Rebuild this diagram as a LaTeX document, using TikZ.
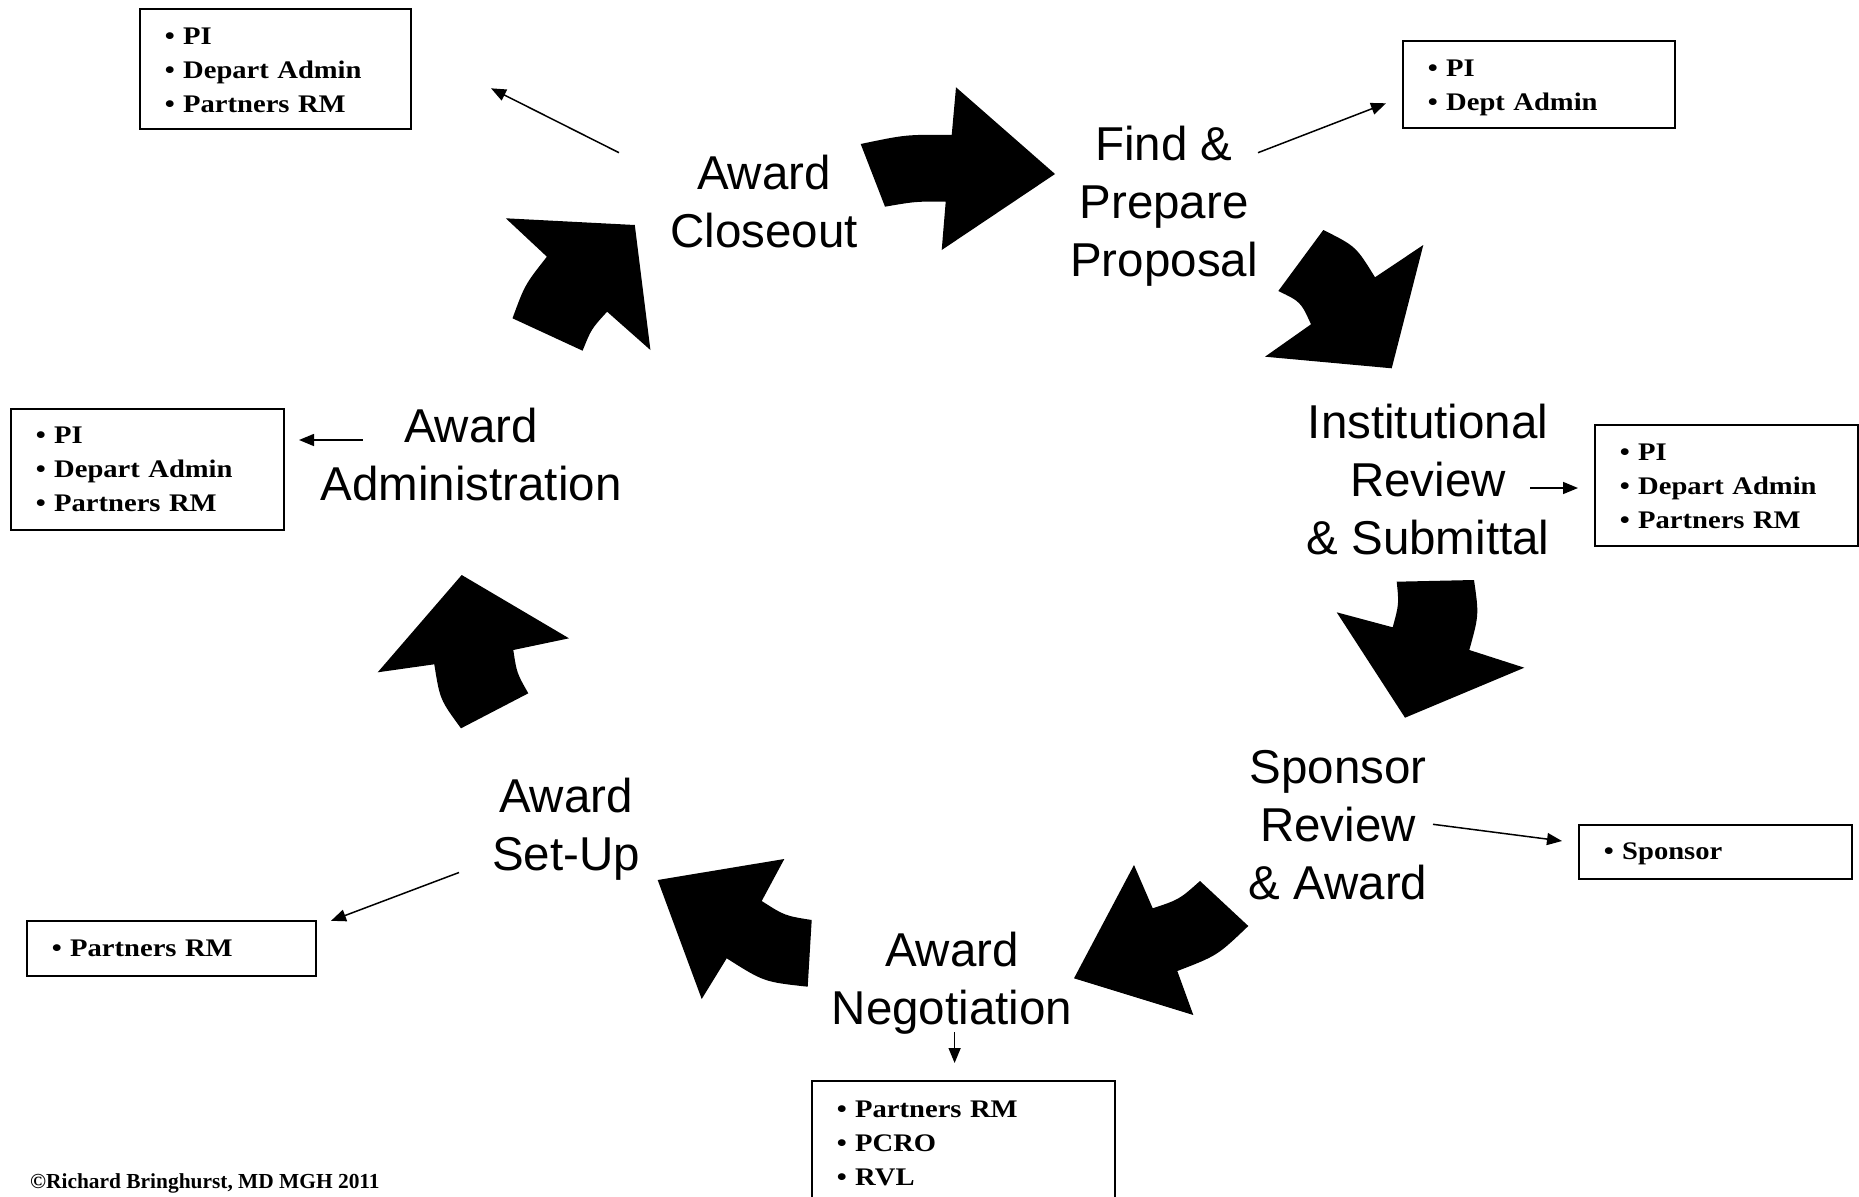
\documentclass[tikz,border=0pt]{standalone}
\usepackage{fontspec}
\setmainfont{Liberation Serif}
\newfontfamily\hfont{Liberation Sans}
\newfontfamily\boxfont[FakeStretch=1.13]{Liberation Serif}
\usetikzlibrary{arrows.meta}
\tikzset{
  ttl/.style={font=\hfont\fontsize{47.5}{58}\selectfont, align=center, inner sep=0pt},
  rbox/.style={draw, line width=1.6pt, font=\boxfont\bfseries\fontsize{25.3}{34}\selectfont,
     align=left, anchor=north west, inner xsep=25pt, inner ysep=0pt},
  thinarrow/.style={line width=1.5pt, -{Triangle[length=15pt,width=12pt]}},
  blockarrow/.style={fill=black, draw=none}
}
\begin{document}
\begin{tikzpicture}[x=1pt,y=-1pt]
\useasboundingbox (0,0) rectangle (1859,1196);

% stage titles
\node[ttl] (closeout) at (764,202) {Award\\Closeout};
\node[ttl] (find) at (1164,206.7) {Find \&\\Prepare\\Proposal};
\node[ttl] (inst) at (1428,480) {Institutional\\Review\\\& Submittal};
\node[ttl] (sponsor) at (1338,825) {Sponsor\\Review\\\& Award};
\node[ttl] (nego) at (952,983.7) {Award\\Negotiation};
\node[ttl] (setup) at (566,829.7) {Award\\Set-Up};
\node[ttl] (admin) at (471,454.2) {Award\\Administration};

% role boxes
\node[rbox, text width=221pt, minimum height=120pt] (b1) at (139,8)
  {\rule{0pt}{19pt}\textbullet~PI\\\textbullet~Depart Admin\\\textbullet~Partners RM};
\node[rbox, text width=222pt, minimum height=87pt] (b2) at (1402,40)
  {\rule{0pt}{24pt}\textbullet~PI\\\textbullet~Dept Admin};
\node[rbox, text width=213pt, minimum height=121pt] (b3) at (1594,424)
  {\rule{0pt}{19pt}\textbullet~PI\\\textbullet~Depart Admin\\\textbullet~Partners RM};
\node[rbox, text width=223pt, minimum height=121pt] (b4) at (10,408)
  {\textbullet~PI\\\textbullet~Depart Admin\\\textbullet~Partners RM};
\node[rbox, text width=223pt, minimum height=54pt] (b5) at (1578,824)
  {\rule{0pt}{21pt}\textbullet~Sponsor};
\node[rbox, text width=239pt, minimum height=55pt] (b6) at (26,920)
  {\textbullet~Partners RM};
\node[rbox, text width=253pt, minimum height=122pt] (b7) at (811,1080)
  {\rule{0pt}{19pt}\textbullet~Partners RM\\\textbullet~PCRO\\\textbullet~RVL};

% thin connector ends
\coordinate (a1s) at (619,152.7);  \coordinate (a1e) at (491,88.3);
\coordinate (a2s) at (1258,152.7); \coordinate (a2e) at (1386,103.3);
\coordinate (a3s) at (1530,488);   \coordinate (a3e) at (1578,488);
\coordinate (a4s) at (362.5,440);  \coordinate (a4e) at (299,440);
\coordinate (a5s) at (1433,824.3); \coordinate (a5e) at (1562,841);
\coordinate (a6s) at (459,872.5);  \coordinate (a6e) at (331,920.8);
\coordinate (a7s) at (954.6,1032); \coordinate (a7e) at (954.6,1063);
\draw[thinarrow] (a1s) -- (a1e);
\draw[thinarrow] (a2s) -- (a2e);
\draw[thinarrow] (a3s) -- (a3e);
\draw[thinarrow] (a4s) -- (a4e);
\draw[thinarrow] (a5s) -- (a5e);
\draw[thinarrow] (a6s) -- (a6e);
\draw[thinarrow] (a7s) -- (a7e);

% block curved arrows
\fill[blockarrow] (860.7,144) .. controls (906,134.5) .. (951.7,135) -- (956,87.3) -- (1055,174)
  -- (941.7,250) -- (945.7,201.7) .. controls (915.7,201.4) .. (885,206.7) -- cycle;
\fill[blockarrow] (1323.3,230) -- (1278.3,291) .. controls (1300.7,301.8) .. (1311,324.3)
  -- (1265,356.7) -- (1391.7,368.3) -- (1423.3,245) -- (1375,277.3)
  .. controls (1355.9,246.3) .. (1323.3,230) -- cycle;
\fill[blockarrow] (1396.7,581.7) -- (1474,580) .. controls (1479,615) .. (1469.3,650)
  -- (1524.3,667.7) -- (1405,717.7) -- (1336.7,612.3) -- (1392.7,627.3)
  .. controls (1399,604) .. (1396.7,581.7) -- cycle;
\fill[blockarrow] (1200,881) -- (1248.3,926) .. controls (1217.3,955.6) .. (1177.3,971)
  -- (1193.3,1015) -- (1074,978.3) -- (1134,865) -- (1152.7,908.3)
  .. controls (1179.2,899.5) .. (1200,881) -- cycle;
\fill[blockarrow] (811.7,920) -- (807.7,986.7) .. controls (763.9,981.9) .. (726.7,958.3)
  -- (701.7,999) -- (657.7,880) -- (784.3,859) -- (761.7,901)
  .. controls (784.7,915.7) .. (811.7,920) -- cycle;
\fill[blockarrow] (461,728.3) -- (528.3,693.3) .. controls (516.8,673.1) .. (513.3,650)
  -- (569,638.3) -- (461.7,575) -- (377.7,672.3) -- (434.3,664.3)
  .. controls (439.9,699.5) .. (461,728.3) -- cycle;
\fill[blockarrow] (505.8,218.3) -- (634.8,225) -- (650.4,350) -- (607.1,311.7)
  .. controls (591.3,329) .. (582.6,350.7) -- (512.5,318.3)
  .. controls (524.8,284.8) .. (546.9,256.7) -- cycle;

% copyright
\node[font=\bfseries\fontsize{21.4}{25}\selectfont, anchor=west, inner sep=0pt] (copy) at (30,1183)
  {\textcopyright Richard Bringhurst, MD MGH 2011};
\end{tikzpicture}
\end{document}
